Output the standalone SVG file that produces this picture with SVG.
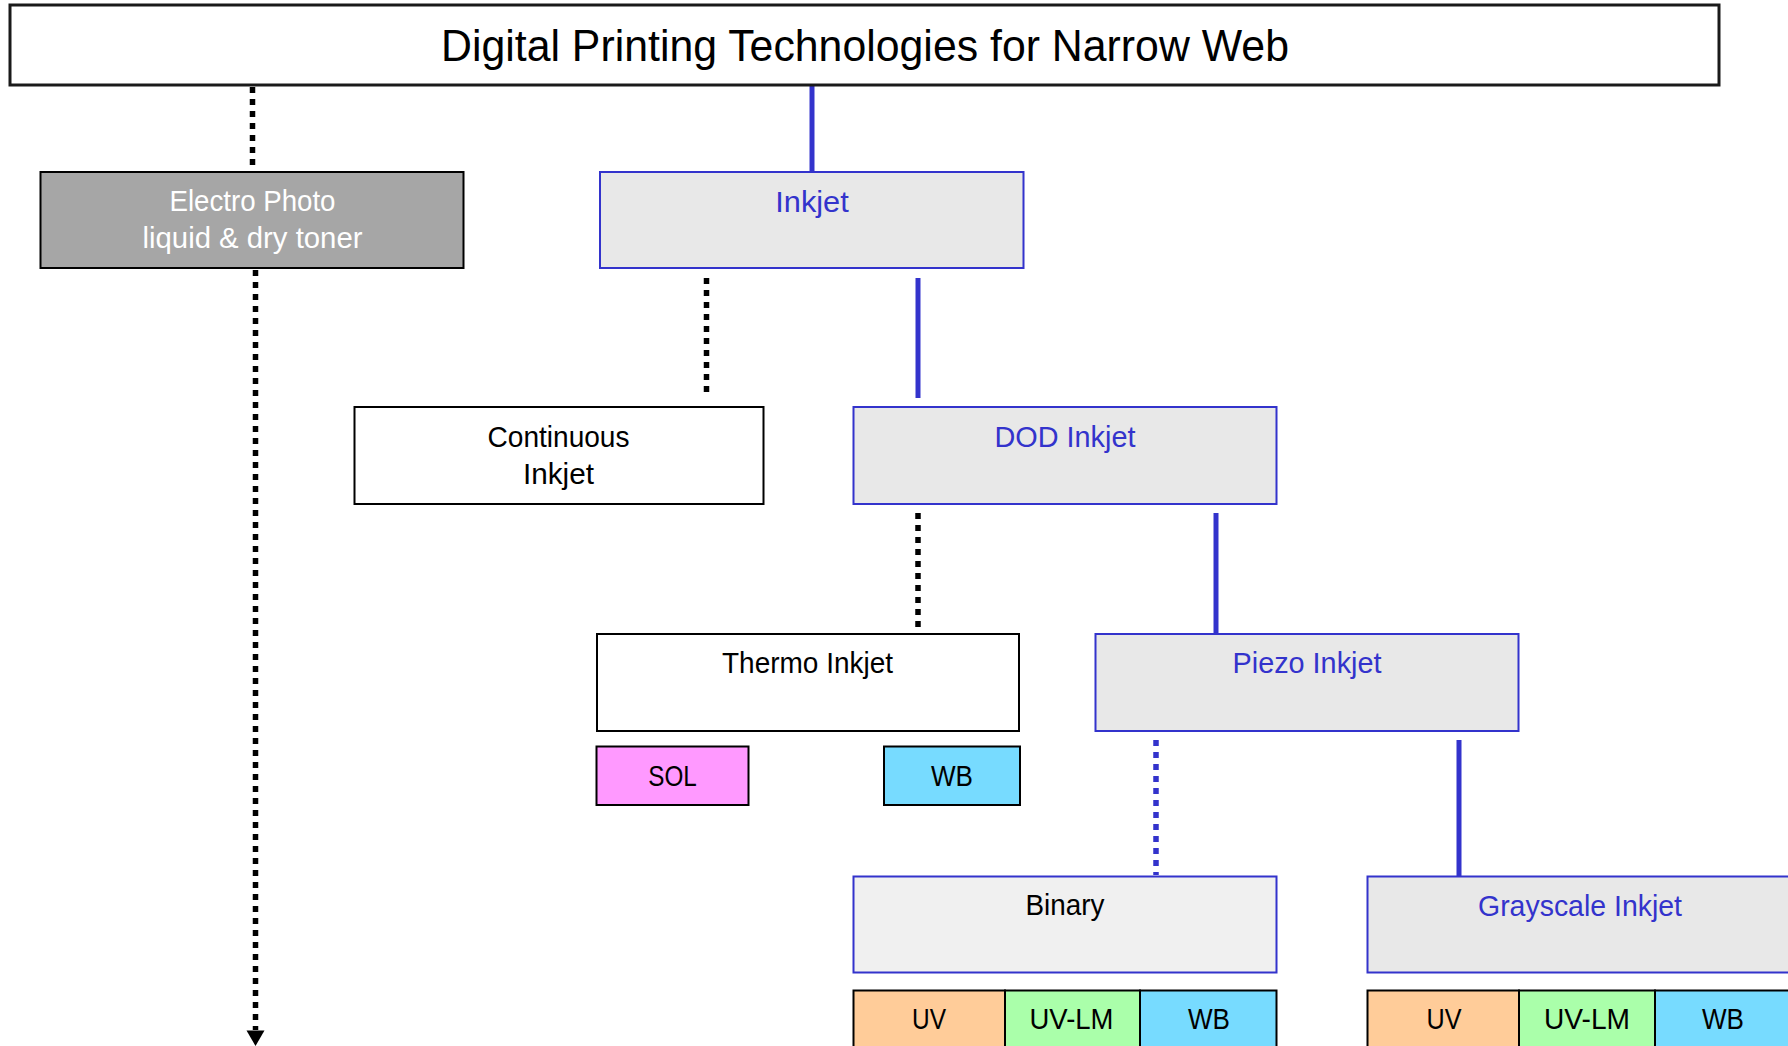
<svg xmlns="http://www.w3.org/2000/svg" width="1788" height="1046" viewBox="0 0 1788 1046">
<style>
text{font-family:"Liberation Sans",Arial,sans-serif;text-anchor:middle;}
.t{font-size:30px;fill:#000;}
.tb{font-size:30px;fill:#3333cc;}
.tw{font-size:30px;fill:#fff;}
.bx{stroke:#000;stroke-width:2;}
.bb{stroke:#3333cc;stroke-width:2;}
.sol{stroke:#3333cc;stroke-width:5;fill:none;}
.dotk{stroke:#000;stroke-width:5.5;stroke-dasharray:6 6;fill:none;}
.dotb{stroke:#3333cc;stroke-width:5.5;stroke-dasharray:6 6;fill:none;}
</style>
<defs>
<marker id="arr" markerUnits="userSpaceOnUse" markerWidth="20" markerHeight="18" refX="9" refY="16" orient="auto-start-reverse" viewBox="0 0 18 16">
<path d="M0,0 L18,0 L9,16 Z" fill="#000"/>
</marker>
</defs>
<rect width="1788" height="1046" fill="#fff"/>

<g id="connectors">
<line class="dotk" x1="252.5" y1="87" x2="252.5" y2="170"/>
<line class="sol" x1="812" y1="86" x2="812" y2="172"/>
<line class="dotk" x1="255.5" y1="270" x2="255.5" y2="1030"/>
<path d="M246.5,1030.5 L264.5,1030.5 L255.5,1046 Z" fill="#000"/>
<line class="dotk" x1="706.5" y1="278" x2="706.5" y2="393"/>
<line class="sol" x1="918" y1="278" x2="918" y2="398"/>
<line class="dotk" x1="918" y1="513" x2="918" y2="628"/>
<line class="sol" x1="1216" y1="513" x2="1216" y2="634"/>
<line class="dotb" x1="1156" y1="740" x2="1156" y2="875"/>
<line class="sol" x1="1459" y1="740" x2="1459" y2="876"/>
</g>

<g id="title">
<rect x="10" y="5" width="1709" height="80" fill="#fff" stroke="#1a1a1a" stroke-width="3"/>
<text x="865" y="61" font-size="44" textLength="848" lengthAdjust="spacingAndGlyphs">Digital Printing Technologies for Narrow Web</text>
</g>

<g id="electro">
<rect class="bx" x="40.5" y="172" width="423" height="96" fill="#a6a6a6"/>
<text class="tw" x="252.5" y="210.5" textLength="166" lengthAdjust="spacingAndGlyphs">Electro Photo</text>
<text class="tw" x="252.5" y="248" textLength="220" lengthAdjust="spacingAndGlyphs">liquid &amp; dry toner</text>
</g>

<g id="inkjet">
<rect class="bb" x="600" y="172" width="423.5" height="96" fill="#e8e8e8"/>
<text class="tb" x="812" y="211.5" textLength="73.5" lengthAdjust="spacingAndGlyphs">Inkjet</text>
</g>

<g id="continuous">
<rect class="bx" x="354.5" y="407" width="409" height="97" fill="#fff"/>
<text class="t" x="558.5" y="446.5" textLength="142" lengthAdjust="spacingAndGlyphs">Continuous</text>
<text class="t" x="558.5" y="484" textLength="71" lengthAdjust="spacingAndGlyphs">Inkjet</text>
</g>

<g id="dod">
<rect class="bb" x="853.5" y="407" width="423" height="97" fill="#e8e8e8"/>
<text class="tb" x="1065" y="446.5" textLength="141" lengthAdjust="spacingAndGlyphs">DOD Inkjet</text>
</g>

<g id="thermo">
<rect class="bx" x="597" y="634" width="422" height="97" fill="#fff"/>
<text class="t" x="807.5" y="673" textLength="171" lengthAdjust="spacingAndGlyphs">Thermo Inkjet</text>
</g>

<g id="piezo">
<rect class="bb" x="1095.5" y="634" width="423" height="97" fill="#e8e8e8"/>
<text class="tb" x="1307" y="673" textLength="149" lengthAdjust="spacingAndGlyphs">Piezo Inkjet</text>
</g>

<g id="thermo-sol">
<rect class="bx" x="596.5" y="746.5" width="152" height="58.5" fill="#ff99ff"/>
<text class="t" x="672.5" y="786" textLength="48.5" lengthAdjust="spacingAndGlyphs">SOL</text>
</g>
<g id="thermo-wb">
<rect class="bx" x="884" y="746.5" width="136" height="58.5" fill="#77dbff"/>
<text class="t" x="952" y="786" textLength="42" lengthAdjust="spacingAndGlyphs">WB</text>
</g>

<g id="binary">
<rect class="bb" x="853.5" y="876.5" width="423" height="96" fill="#f0f0f0"/>
<text class="t" x="1065" y="915" textLength="79" lengthAdjust="spacingAndGlyphs">Binary</text>
</g>

<g id="binary-uv">
<rect class="bx" x="853.5" y="990.5" width="151.5" height="70" fill="#ffcc99"/>
<text class="t" x="929" y="1029" textLength="34" lengthAdjust="spacingAndGlyphs">UV</text>
</g>
<g id="binary-uvlm">
<rect class="bx" x="1005" y="990.5" width="135" height="70" fill="#aaffaa"/>
<text class="t" x="1071.5" y="1029" textLength="84" lengthAdjust="spacingAndGlyphs">UV-LM</text>
</g>
<g id="binary-wb">
<rect class="bx" x="1140" y="990.5" width="136.5" height="70" fill="#77dbff"/>
<text class="t" x="1209" y="1029" textLength="42" lengthAdjust="spacingAndGlyphs">WB</text>
</g>

<g id="grayscale">
<rect class="bb" x="1367.5" y="876.5" width="440" height="96" fill="#e8e8e8"/>
<text class="tb" x="1580" y="916" textLength="204" lengthAdjust="spacingAndGlyphs">Grayscale Inkjet</text>
</g>

<g id="gray-uv">
<rect class="bx" x="1367.5" y="990.5" width="151.5" height="70" fill="#ffcc99"/>
<text class="t" x="1444" y="1029" textLength="35" lengthAdjust="spacingAndGlyphs">UV</text>
</g>
<g id="gray-uvlm">
<rect class="bx" x="1519" y="990.5" width="136" height="70" fill="#aaffaa"/>
<text class="t" x="1587" y="1029" textLength="86" lengthAdjust="spacingAndGlyphs">UV-LM</text>
</g>
<g id="gray-wb">
<rect class="bx" x="1655" y="990.5" width="150" height="70" fill="#77dbff"/>
<text class="t" x="1723" y="1029" textLength="42" lengthAdjust="spacingAndGlyphs">WB</text>
</g>
</svg>
